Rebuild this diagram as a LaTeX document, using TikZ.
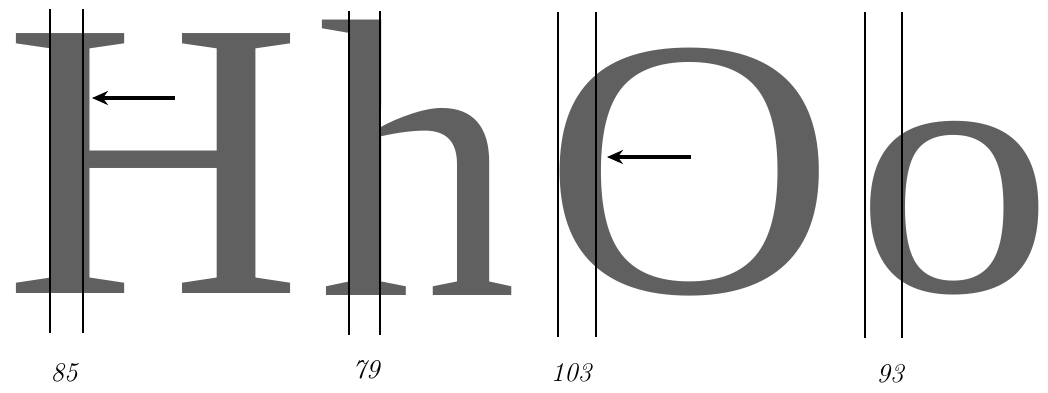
\documentclass[tikz,border=0pt]{standalone}
\usepackage{fontspec}
\usetikzlibrary{arrows.meta}
\newfontfamily\specimenfont{Liberation Serif}
\definecolor{inkgrey}{RGB}{96,96,96}
\tikzset{
  glyph/.style={inner sep=0pt, outer sep=0pt, text=inkgrey, anchor=base west,
    text depth=0pt, font=\specimenfont\fontsize{397}{397}\selectfont},
  stemline/.style={line width=1.8pt},
  pointer/.style={line width=3.4pt, -{Stealth[length=16pt, width=14pt]}},
  stemwidth/.style={inner sep=0pt, font=\itshape\fontsize{27}{27}\selectfont}
}

\begin{document}
\begin{tikzpicture}[x=1pt, y=-1pt]
  \useasboundingbox (0,0) rectangle (1048,392);

  % the four letters
  \node[glyph] (H) at (5,293) {\scalebox{1.04}[1]{H}};
  \node[glyph] (h) at (318,295) {h};
  \node[glyph] (O) at (543,292) {\scalebox{1.02}[0.93]{O}};
  \node[glyph] (o) at (855,291.5) {\hbox to 185pt{\scalebox{1}[0.91]{o}\hss}};

  % stem lines
  \coordinate (H1t) at (50,9);   \coordinate (H1b) at (50,333);
  \coordinate (H2t) at (83,9);   \coordinate (H2b) at (83,333);
  \coordinate (h1t) at (349,11); \coordinate (h1b) at (349,335);
  \coordinate (h2t) at (380,11); \coordinate (h2b) at (380,335);
  \coordinate (O1t) at (558,12); \coordinate (O1b) at (558,337);
  \coordinate (O2t) at (596,12); \coordinate (O2b) at (596,337);
  \coordinate (o1t) at (865,12); \coordinate (o1b) at (865,338);
  \coordinate (o2t) at (902,12); \coordinate (o2b) at (902,338);

  \draw[stemline] (H1t) -- (H1b);
  \draw[stemline] (H2t) -- (H2b);
  \draw[stemline] (h1t) -- (h1b);
  \draw[stemline] (h2t) -- (h2b);
  \draw[stemline] (O1t) -- (O1b);
  \draw[stemline] (O2t) -- (O2b);
  \draw[stemline] (o1t) -- (o1b);
  \draw[stemline] (o2t) -- (o2b);

  % arrows onto the stems
  \coordinate (aHs) at (175,98); \coordinate (aHe) at (92,98);
  \coordinate (aOs) at (691,157); \coordinate (aOe) at (607,157);
  \draw[pointer] (aHs) -- (aHe);
  \draw[pointer] (aOs) -- (aOe);

  % stem widths
  \node[stemwidth] (wH) at (64,373) {85};
  \node[stemwidth] (wh) at (366,370) {79};
  \node[stemwidth] (wO) at (571,373) {103};
  \node[stemwidth] (wo) at (890,374) {93};
\end{tikzpicture}
\end{document}
